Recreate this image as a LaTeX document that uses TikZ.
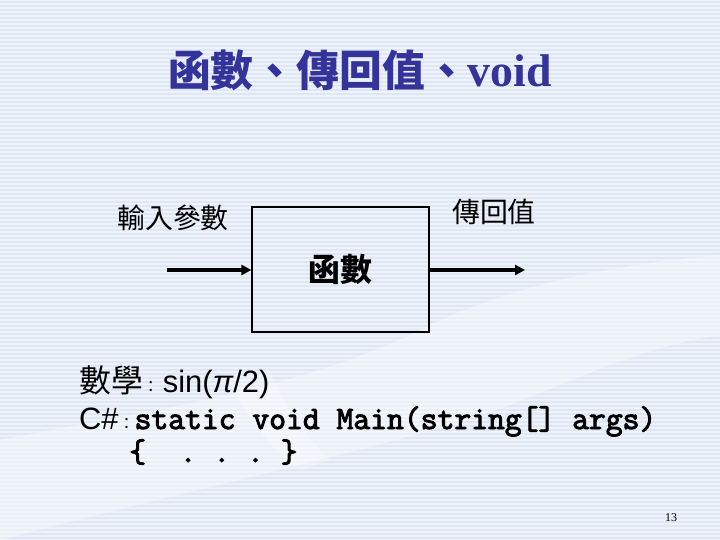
\documentclass[tikz,border=0pt]{standalone}
\usepackage{fontspec}
\setmainfont{Liberation Serif}
\setsansfont{Liberation Sans}
\newfontfamily\cjk{Noto Sans CJK TC}
\newfontfamily\codefam[FakeBold=3]{Latin Modern Mono}
\usetikzlibrary{arrows.meta}
\definecolor{bgA}{HTML}{EEF2FA}
\definecolor{bgB}{HTML}{DFE7F4}
\definecolor{titleblue}{HTML}{333399}
\newcommand\codefont{\codefam\fontsize{32.8}{36}\selectfont}
\tikzset{
  titletext/.style={text=titleblue, inner sep=0, font=\cjk\bfseries\fontsize{43}{48}\selectfont},
  lbl/.style={inner sep=0, font=\cjk\fontsize{28}{32}\selectfont},
  fnbox/.style={draw, line width=1.2bp, minimum width=177bp, minimum height=125bp, inner sep=0, font=\cjk\bfseries\fontsize{32}{36}\selectfont},
  arr/.style={line width=3.5bp, -{Triangle[length=10bp,width=10bp]}},
  codeline/.style={anchor=base west, inner sep=0},
}
\begin{document}
\begin{tikzpicture}[x=1bp,y=-1bp]
\useasboundingbox (0,0) rectangle (720,540);
% background
\fill[bgA] (0,0) rectangle (720,540);
\foreach \i in {0,...,134} \fill[bgB] (0,\i*4+1) rectangle (720,\i*4+3);
% faint hand
\fill[white, opacity=0.35] (0,440) .. controls (150,410) and (300,390) .. (420,330) .. controls (500,290) and (600,265) .. (720,255) -- (720,335) .. controls (620,350) and (540,400) .. (450,425) .. controls (330,460) and (150,500) .. (0,540) -- cycle;
\fill[white, opacity=0.25] (225,375) .. controls (250,420) and (270,450) .. (300,470) -- (330,460) .. controls (300,430) and (280,400) .. (270,370) -- cycle;
% title
\node[titletext] (title) at (360,70) {函數、傳回值、{\rmfamily\bfseries\fontsize{46}{50}\selectfont void}};
% diagram
\node[fnbox] (fn) at (340.5,269.5) {函數};
\node[lbl] (inlbl) at (173,218) {輸入參數};
\node[lbl] (outlbl) at (494,212) {傳回值};
\coordinate (src) at (167,270);
\coordinate (dst) at (525,270);
\draw[arr] (src) -- (src -| fn.west);
\draw[arr] (fn.east |- dst) -- (dst);
% text lines
\node[codeline] (math) at (79,392) {{\cjk\fontsize{32}{36}\selectfont 數學}{\cjk\fontsize{16}{20}\selectfont ：}\hspace{4bp}{\sffamily\fontsize{31}{34}\selectfont sin({\itshape π}/2)}};
\node[codeline] (cs) at (79,429) {{\sffamily\fontsize{31}{34}\selectfont C\#}{\cjk\fontsize{16}{20}\selectfont ：}{\codefont static void Main(string[] args)}};
\node[codeline, font=\codefont] (body) at (129,462) {\{~~.~.~.~\}};
% page number
\node[inner sep=0, font=\rmfamily\fontsize{12}{14}\selectfont] (pg) at (671,518) {13};
\end{tikzpicture}
\end{document}
